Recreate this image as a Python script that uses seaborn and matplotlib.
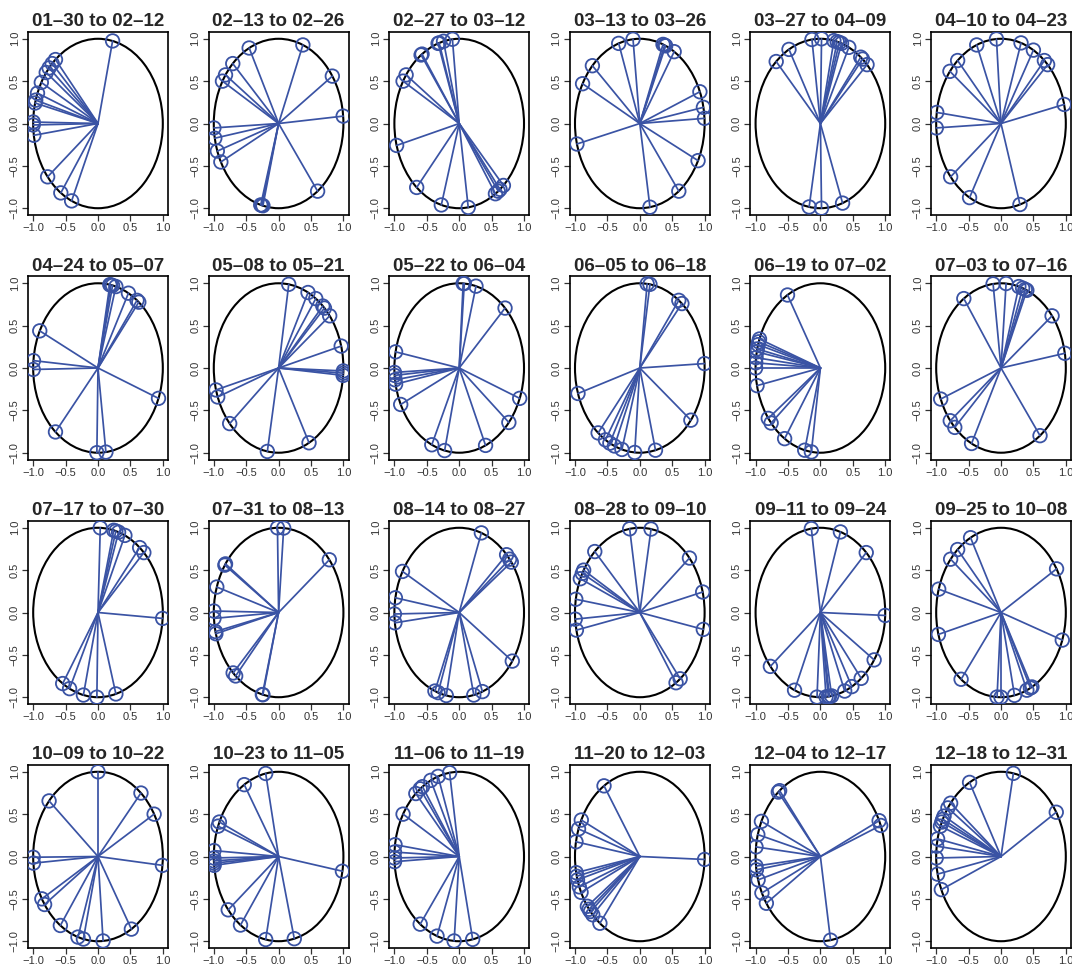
import numpy as np
import pandas as pd
import matplotlib
matplotlib.use('Agg')
import matplotlib.pyplot as plt
from matplotlib.patches import Circle
import seaborn as sns

# Style
sns.set_style('ticks')
plt.rcParams['font.family'] = ['Liberation Sans', 'DejaVu Sans']
plt.rcParams['axes.unicode_minus'] = True

BLUE = '#3a53a4'

# Panel titles (two-week windows)
titles = ['01–30 to 02–12', '02–13 to 02–26', '02–27 to 03–12', '03–13 to 03–26',
          '03–27 to 04–09', '04–10 to 04–23', '04–24 to 05–07', '05–08 to 05–21',
          '05–22 to 06–04', '06–05 to 06–18', '06–19 to 07–02', '07–03 to 07–16',
          '07–17 to 07–30', '07–31 to 08–13', '08–14 to 08–27', '08–28 to 09–10',
          '09–11 to 09–24', '09–25 to 10–08', '10–09 to 10–22', '10–23 to 11–05',
          '11–06 to 11–19', '11–20 to 12–03', '12–04 to 12–17', '12–18 to 12–31']

# Phase angles (degrees) of each observation on the unit circle
ang_01 = [77, 131, 135, 139, 143, 151, 159, 164, 166, 179, 181, 188, 219, 235, 246]
ang_02 = [68, 117, 135, 145, 150, 34, 5, 183, 190, 199, 207, 307, 254, 256, 255]
ang_03 = [96, 104, 108, 109, 125, 126, 145, 150, 195, 229, 254, 278, 304, 307, 313, 309]
ang_04 = [109, 96, 69, 67.5, 66.5, 58, 137, 152, 22, 11, 3.5, 194, 334, 307, 279]
ang_05 = [133, 119, 97.5, 89, 78, 75, 73, 71, 64, 51.5, 49.5, 44, 260, 271, 290]
ang_06 = [94, 112, 132, 142, 72, 60, 48, 44, 13, 172.5, 183, 219, 241, 287]
ang_07 = [79.5, 78.5, 77, 74, 62, 53, 51, 154, 175, 181, 339, 229, 269, 277]
ang_08 = [81, 63, 55, 47, 45, 38, 15, 358, 356.5, 355, 195, 200, 221, 260, 298]
ang_09 = [86.5, 85.5, 75, 45, 169, 183, 185, 188, 191, 205.5, 339, 320, 294, 245, 257]
ang_10 = [83.5, 81, 53, 49.5, 3, 197.5, 230, 238, 242.5, 247, 254, 265.5, 284, 322]
ang_11 = [120.5, 160, 162, 164, 167, 169, 173, 176.5, 180, 192, 216.5, 220.5, 236.5, 256, 262]
ang_12 = [97, 85.5, 74, 70.5, 68, 66.5, 125, 38, 10, 201.5, 218.5, 224.5, 243, 307]
ang_13 = [88, 76, 74, 71.5, 65.5, 50, 45, 356, 237, 244, 257, 269, 286]
ang_14 = [91, 85.5, 38.5, 145, 146, 162.5, 179, 184, 193, 194.5, 225.5, 228.5, 256, 255.5]
ang_15 = [70, 43, 39, 36.5, 151, 170, 181, 187, 325, 291, 283, 258.5, 251, 248]
ang_16 = [99, 80, 134, 40, 14, 348.5, 150, 152.5, 156.5, 171, 184.5, 192, 304, 308.5]
ang_17 = [98, 72, 45, 358, 326, 309, 299, 292, 280, 278, 277, 275, 267, 246.5, 219.5]
ang_18 = [118, 132, 141, 164, 31, 195, 341, 232, 266.5, 270, 282, 293.5, 297, 298.5]
ang_19 = [90, 48.5, 30, 139, 180.5, 184.5, 354, 210, 214.5, 234.5, 252, 257, 274.5, 301]
ang_20 = [101.5, 122, 156, 159, 176, 181, 183, 184.5, 186, 350, 219, 234, 258.5, 284]
ang_21 = [98.5, 109, 116, 124.5, 127, 132, 150, 172, 177, 181, 183.5, 233, 250, 265.5, 282]
ang_22 = [123.5, 154.5, 161, 170, 358, 191, 193.5, 196, 201, 205, 216, 218.5, 220.5, 223.5, 232]
ang_23 = [130.5, 129, 155.5, 165, 173.5, 186.5, 189, 196, 205.5, 213.5, 25, 21.5, 279]
ang_24 = [79, 31.5, 119, 141, 145, 151.5, 154, 156, 159, 168, 173, 181, 192, 203]

angles = [ang_01, ang_02, ang_03, ang_04, ang_05, ang_06, ang_07, ang_08,
          ang_09, ang_10, ang_11, ang_12, ang_13, ang_14, ang_15, ang_16,
          ang_17, ang_18, ang_19, ang_20, ang_21, ang_22, ang_23, ang_24]

fig = plt.figure(figsize=(10.72, 9.68), dpi=100)

# Panel grid (pixel layout of the original)
W, H = 1072, 968
col_left = [28 + 180.6 * c for c in range(6)]
row_top = [32, 276.5, 521, 765]
pw, ph = 140, 183

for i, (title, ang) in enumerate(zip(titles, angles)):
    r, c = divmod(i, 6)
    ax = fig.add_axes([col_left[c] / W, 1 - (row_top[r] + ph) / H, pw / W, ph / H])

    th = np.deg2rad(np.array(ang, dtype=float))
    px, py = np.cos(th), np.sin(th)

    # spokes from origin to each point
    seg = pd.DataFrame({
        'x': np.column_stack([np.zeros_like(px), px]).ravel(),
        'y': np.column_stack([np.zeros_like(py), py]).ravel(),
        'spoke': np.repeat(np.arange(len(px)), 2),
    })

    ax.add_patch(Circle((0, 0), 1, fill=False, ec='black', lw=1.5, zorder=1))
    sns.lineplot(data=seg, x='x', y='y', units='spoke', estimator=None, sort=False,
                 color=BLUE, lw=1.25, ax=ax, legend=False, zorder=2)
    sns.scatterplot(x=px, y=py, s=95, marker='o', color=BLUE, facecolor='none',
                    edgecolor=BLUE, linewidth=1.3, ax=ax, legend=False, zorder=3)

    ax.set_xlim(-1.08, 1.08)
    ax.set_ylim(-1.08, 1.08)
    ax.set_xticks([-1, -0.5, 0, 0.5, 1])
    ax.set_yticks([-1, -0.5, 0, 0.5, 1])
    ax.set_xticklabels(['−1.0', '−0.5', '0.0', '0.5', '1.0'])
    ax.set_yticklabels(['−1.0', '−0.5', '0.0', '0.5', '1.0'])
    ax.set_xlabel('')
    ax.set_ylabel('')
    ax.tick_params(axis='both', labelsize=8, length=4, width=0.9, pad=2,
                   colors='#333333', direction='out')
    ax.tick_params(axis='y', labelrotation=90)
    for lbl in ax.get_yticklabels():
        lbl.set_va('center')
    for sp in ax.spines.values():
        sp.set_visible(True)
        sp.set_color('black')
        sp.set_linewidth(1.2)
    ax.set_title(title, fontsize=13.5, fontweight='bold', pad=4)

fig.savefig('out.png', dpi=100)
